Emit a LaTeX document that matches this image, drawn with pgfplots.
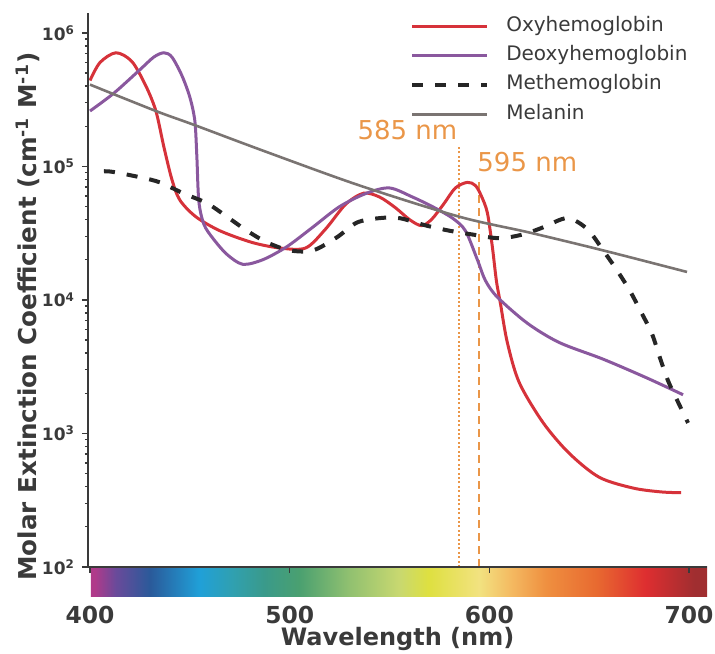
\documentclass[border=0pt]{standalone}
\usepackage{pgfplots}
\pgfplotsset{compat=1.18}
\usepackage{fontspec}
\setmainfont{DejaVu Sans}

\definecolor{oxy}{RGB}{214,50,58}
\definecolor{deoxy}{RGB}{138,88,158}
\definecolor{mel}{RGB}{122,116,114}
\definecolor{nmorange}{RGB}{234,150,72}
\definecolor{txt}{RGB}{58,58,58}

% visible spectrum strip, 399..709 nm mapped onto 25bp..75bp
\pgfdeclarehorizontalshading{spectrum}{100bp}{%
  color(0bp)=(rgb,255:red,176;green,58;blue,138);
  color(25.3bp)=(rgb,255:red,176;green,58;blue,138);
  color(27.0bp)=(rgb,255:red,106;green,74;blue,154);
  color(29.8bp)=(rgb,255:red,42;green,90;blue,154);
  color(33.8bp)=(rgb,255:red,32;green,160;blue,216);
  color(36.5bp)=(rgb,255:red,48;green,160;blue,176);
  color(39.1bp)=(rgb,255:red,58;green,154;blue,138);
  color(41.9bp)=(rgb,255:red,74;green,160;blue,112);
  color(45.9bp)=(rgb,255:red,144;green,192;blue,112);
  color(50.0bp)=(rgb,255:red,200;green,216;blue,112);
  color(52.4bp)=(rgb,255:red,222;green,224;blue,64);
  color(56.5bp)=(rgb,255:red,242;green,226;blue,128);
  color(59.2bp)=(rgb,255:red,244;green,184;blue,96);
  color(61.9bp)=(rgb,255:red,239;green,144;blue,64);
  color(66.0bp)=(rgb,255:red,232;green,106;blue,48);
  color(70.0bp)=(rgb,255:red,222;green,46;blue,48);
  color(74.0bp)=(rgb,255:red,160;green,46;blue,48);
  color(100bp)=(rgb,255:red,160;green,46;blue,48)}

\begin{document}
\begin{tikzpicture}
\begin{axis}[
    scale only axis,
    width=309.5pt, height=277pt,
    ymode=log,
    xmin=399, xmax=709,
    ymin=100, ymax=1.41e6,
    axis x line*=bottom,
    axis y line*=left,
    axis line style={txt, line width=0.9pt},
    axis on top,
    clip=false,
    tick align=outside,
    major tick length=3pt,
    minor tick length=1.5pt,
    tick style={txt, line width=0.7pt},
    /pgf/number format/assume math mode=true,
    xtick={400,500,600,700},
    xticklabel style={font=\bfseries\fontsize{11.7}{14}\selectfont, text=txt,
        anchor=center, inner sep=0pt, text height=8.5pt, text depth=0pt, yshift=-21pt},
    ytick={1e2,1e3,1e4,1e5,1e6},
    yticklabels={10\textsuperscript{2},10\textsuperscript{3},10\textsuperscript{4},10\textsuperscript{5},10\textsuperscript{6}},
    yticklabel style={font=\bfseries\fontsize{8.5}{10}\selectfont, text=txt},
    xlabel={Wavelength (nm)},
    xlabel style={at={(axis description cs:0.5,-0.13)}, anchor=center, inner sep=0pt,
        text height=9pt, text depth=2.5pt,
        font=\bfseries\fontsize{12}{14}\selectfont, text=txt},
    ylabel={Molar Extinction Coefficient (cm\textsuperscript{-1} M\textsuperscript{-1})},
    ylabel style={at={(axis description cs:-0.097,0.452)}, anchor=center,
        font=\bfseries\fontsize{12.3}{14}\selectfont, text=txt},
    legend style={at={(rel axis cs:0.52,0.995)}, anchor=north west,
        draw=none, fill=none, inner sep=0pt,
        font=\fontsize{10}{12}\selectfont, text=txt, row sep=4.7pt,
        nodes={inner sep=0pt, text height=7.5pt, text depth=2.5pt}},
    legend cell align=left,
    legend image code/.code={\draw[#1] (0pt,0pt) -- (37.5pt,0pt);},
    /tikz/every odd column/.append style={column sep=8.5pt},
]
\shade[shading=spectrum] ([xshift=1.5pt]rel axis cs:0,0) rectangle ([yshift=-15pt]rel axis cs:1,0);

\addplot[nmorange, line width=1pt, dash pattern=on 1pt off 1.2pt, forget plot]
    coordinates {(585,100) (585,1.41e5)};
\addplot[nmorange, line width=0.9pt, dash pattern=on 4pt off 2.5pt, forget plot]
    coordinates {(595,100) (595,7.9e4)};

% Oxyhemoglobin
\addplot[oxy, line width=1.5pt, smooth, tension=0.5] coordinates {
    (400,4.4e5) (405,6.0e5) (413,7.1e5) (421,6.1e5) (428,4.0e5) (433,2.6e5)
    (437,1.4e5) (441,8.0e4) (445,5.6e4) (453,4.2e4) (465,3.3e4) (481,2.7e4)
    (495,2.45e4) (508,2.45e4) (518,3.4e4) (528,5.2e4) (537,6.3e4) (545,5.9e4)
    (553,4.9e4) (560,4.0e4) (566,3.6e4) (571,4.0e4) (577,5.2e4) (583,6.9e4)
    (589,7.6e4) (593,7.2e4) (596,6.0e4) (599,4.5e4) (601.5,2.5e4) (603.5,1.4e4)
    (605.5,9.5e3) (609,4.8e3) (615,2.4e3) (627,1.2e3) (640,7.1e2) (655,4.7e2)
    (672,3.9e2) (686,3.65e2) (696,3.6e2)};
\addlegendentry{Oxyhemoglobin}

% Deoxyhemoglobin
\addplot[deoxy, line width=1.5pt, smooth, tension=0.5] coordinates {
    (400,2.6e5) (407,3.1e5) (413.5,3.7e5) (425,5.3e5) (432,6.6e5) (437,7.1e5)
    (441,6.6e5) (446,4.8e5) (450,3.3e5) (452.5,2.2e5) (453.5,1.2e5) (454.5,5.5e4)
    (457,3.7e4) (461.5,2.9e4) (468.5,2.2e4) (476.5,1.85e4) (486.5,2.0e4)
    (498.5,2.5e4) (511.5,3.5e4) (525,5.0e4) (538.5,6.3e4) (550,6.9e4)
    (561.5,5.9e4) (571.5,5.0e4) (581.5,4.1e4) (588,3.3e4) (594,2.0e4)
    (598,1.4e4) (604,1.05e4) (619,6.7e3) (635,4.8e3) (657,3.6e3) (679,2.6e3)
    (697,1.95e3)};
\addlegendentry{Deoxyhemoglobin}

% Methemoglobin
\addplot[black!85, line width=2pt, dash pattern=on 5.5pt off 6pt, smooth, tension=0.5] coordinates {
    (407,9.2e4) (411.5,9.1e4) (425,8.3e4) (435,7.6e4) (446.6,6.3e4) (458.6,5.3e4)
    (468.6,4.2e4) (478.6,3.3e4) (488.6,2.7e4) (500,2.35e4) (511.7,2.35e4)
    (523.7,2.95e4) (533.7,3.8e4) (545,4.1e4) (555,4.1e4) (568.6,3.6e4)
    (580,3.3e4) (591,3.1e4) (605,2.9e4) (617,3.1e4) (627,3.5e4) (639,4.1e4)
    (649,3.4e4) (657,2.35e4) (664,1.66e4) (670.4,1.17e4) (676.4,7.9e3)
    (681.4,5.6e3) (685.4,3.7e3) (689.4,2.5e3) (694,1.78e3) (699.5,1.2e3)};
\addlegendentry{Methemoglobin}

% Melanin
\addplot[mel, line width=1.3pt, smooth, tension=0.5] coordinates {
    (400,4.1e5) (433,2.6e5) (452,2.05e5) (488,1.29e5) (535,7.2e4) (585,4.2e4)
    (620,3.2e4) (657,2.35e4) (699,1.62e4)};
\addlegendentry{Melanin}

\node[text=nmorange, font=\fontsize{13}{15}\selectfont] at (axis cs:559,1.86e5) {585 nm};
\node[text=nmorange, font=\fontsize{13}{15}\selectfont] at (axis cs:619,1.07e5) {595 nm};

\coordinate (ax-sw) at (rel axis cs:0,0);
\coordinate (ax-ne) at (rel axis cs:1,1);
\end{axis}
\pgfresetboundingbox
\path ([shift={(-44pt,-43.5pt)}]ax-sw) rectangle ([shift={(4pt,6.5pt)}]ax-ne);
\end{tikzpicture}
\end{document}
